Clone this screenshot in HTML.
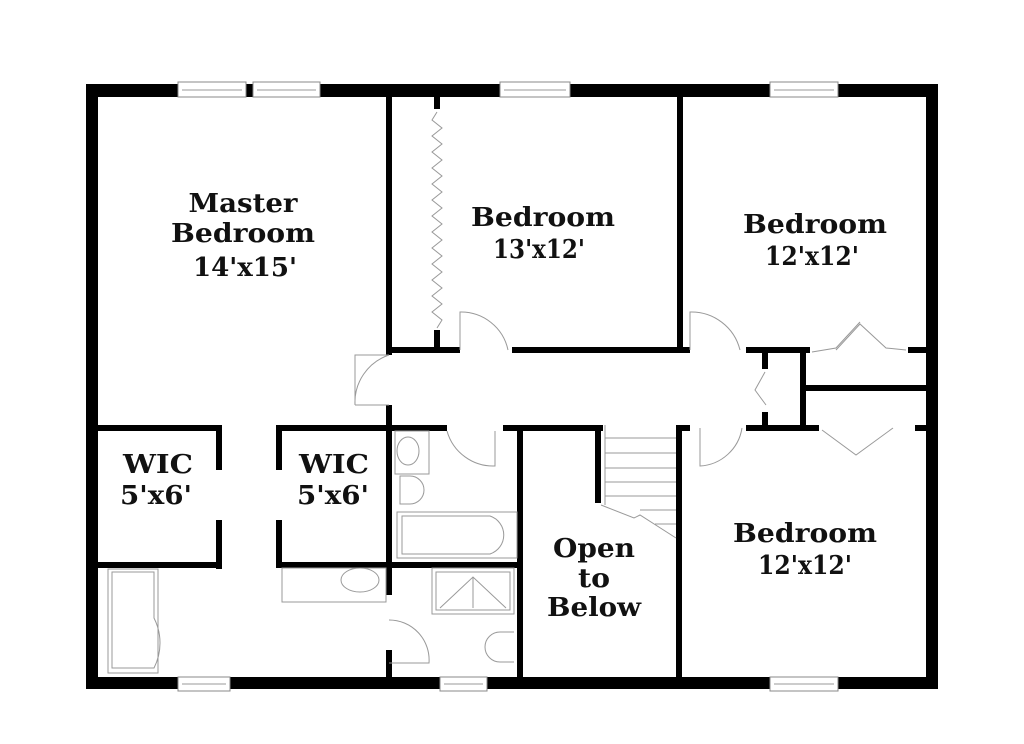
<!DOCTYPE html>
<html><head><meta charset="utf-8"><style>
html,body{margin:0;padding:0;background:#fff;width:1024px;height:744px;overflow:hidden}
svg{display:block}
text{font-family:"DejaVu Serif","Liberation Serif",serif;font-weight:bold;font-size:26px;fill:#111;text-anchor:middle}
.t{fill:none;stroke:#999;stroke-width:1}
</style></head><body>
<svg width="1024" height="744" viewBox="0 0 1024 744">
<g fill="#000">
<rect x="86" y="84" width="852" height="13"/>
<rect x="86" y="677" width="852" height="12"/>
<rect x="86" y="84" width="12" height="605"/>
<rect x="926" y="84" width="12" height="605"/>
<rect x="386" y="97" width="6" height="258"/>
<rect x="386" y="405" width="6" height="190"/>
<rect x="386" y="650" width="6" height="27"/>
<rect x="677" y="97" width="6" height="256"/>
<rect x="392" y="347" width="68" height="6"/>
<rect x="512" y="347" width="178" height="6"/>
<rect x="746" y="347" width="64" height="6"/>
<rect x="908" y="347" width="18" height="6"/>
<rect x="434" y="97" width="6" height="12"/>
<rect x="434" y="330" width="6" height="20"/>
<rect x="800" y="347" width="6" height="84"/>
<rect x="806" y="385" width="120" height="6"/>
<rect x="762" y="353" width="6" height="16"/>
<rect x="762" y="412" width="6" height="16"/>
<rect x="276" y="425" width="171" height="6"/>
<rect x="503" y="425" width="100" height="6"/>
<rect x="676" y="425" width="14" height="6"/>
<rect x="746" y="425" width="73" height="6"/>
<rect x="915" y="425" width="11" height="6"/>
<rect x="517" y="425" width="6" height="252"/>
<rect x="676" y="425" width="6" height="252"/>
<rect x="595" y="425" width="6" height="78"/>
<rect x="98" y="425" width="124" height="6"/>
<rect x="216" y="425" width="6" height="45"/>
<rect x="216" y="520" width="6" height="49"/>
<rect x="98" y="562" width="124" height="6"/>
<rect x="276" y="425" width="6" height="45"/>
<rect x="276" y="520" width="6" height="48"/>
<rect x="276" y="562" width="247" height="6"/>
</g>
<g fill="#fff" stroke="#888" stroke-width="1">
<rect x="178" y="82" width="68" height="15"/><rect x="253" y="82" width="67" height="15"/>
<rect x="500" y="82" width="70" height="15"/><rect x="770" y="82" width="68" height="15"/>
<rect x="178" y="677" width="52" height="14"/><rect x="440" y="677" width="47" height="14"/>
<rect x="770" y="677" width="68" height="14"/>
</g>
<g class="t">
<line x1="182" y1="90" x2="242" y2="90"/><line x1="257" y1="90" x2="316" y2="90"/>
<line x1="504" y1="90" x2="566" y2="90"/><line x1="774" y1="90" x2="834" y2="90"/>
<line x1="182" y1="684" x2="226" y2="684"/><line x1="444" y1="684" x2="483" y2="684"/><line x1="774" y1="684" x2="834" y2="684"/>
<polyline points="437,112 432,120 442,128 432,136 442,144 432,152 442,160 432,168 442,176 432,184 442,192 432,200 442,208 432,216 442,224 432,232 442,240 432,248 442,256 432,264 442,272 432,280 442,288 432,296 442,304 432,312 442,320 437,328"/>
<path d="M460,350 L460,312 A48,48 0 0 1 508,350"/>
<path d="M690,350 L690,312 A50,50 0 0 1 740,350"/>
<path d="M389,355 L355,355 L355,405 A50,50 0 0 1 389,355"/>
<path d="M355,405 L389,405"/>
<path d="M447,431 A48,48 0 0 0 495,466 L495,431"/>
<path d="M700,428 L700,466 A45,45 0 0 0 742,428"/>
<path d="M389,620 A40,40 0 0 1 429,663 L389,663"/>
<polyline points="836,350 860,324 886,348 906,350"/>
<polyline points="812,352 836,348 860,322"/>
<polyline points="822,430 856,455 893,428"/>
<polyline points="765,372 755,390 766,405"/>
<line x1="605" y1="425" x2="605" y2="505"/>
<line x1="605" y1="438" x2="676" y2="438"/><line x1="605" y1="453" x2="676" y2="453"/>
<line x1="605" y1="468" x2="676" y2="468"/><line x1="605" y1="482" x2="676" y2="482"/>
<line x1="605" y1="496" x2="676" y2="496"/><line x1="640" y1="510" x2="676" y2="510"/>
<line x1="655" y1="524" x2="676" y2="524"/>
<polyline points="601,505 634,518 640,515 676,538"/>
<rect x="395" y="431" width="34" height="43"/><ellipse cx="408" cy="451" rx="11" ry="14"/>
<path d="M400,476 L410,476 A14,14 0 1 1 410,504 L400,504 Z"/>
<rect x="397" y="512" width="120" height="46"/><path d="M402,516 L490,516 A20,20 0 0 1 490,554 L402,554 Z"/>
<rect x="282" y="568" width="104" height="34"/><ellipse cx="360" cy="580" rx="19" ry="12"/>
<rect x="432" y="568" width="82" height="46"/><rect x="436" y="572" width="74" height="38"/>
<polyline points="440,608 473,577 506,608"/><line x1="473" y1="577" x2="473" y2="608"/>
<path d="M514,632 L500,632 A15,15 0 1 0 500,662 L514,662"/>
<rect x="108" y="569" width="50" height="104"/>
<path d="M112,572 L154,572 L154,618 A55,55 0 0 1 154,668 L112,668 Z"/>
</g>
<text x="243" y="212" textLength="109" lengthAdjust="spacingAndGlyphs">Master</text>
<text x="243" y="242" textLength="144" lengthAdjust="spacingAndGlyphs">Bedroom</text>
<text x="245" y="276" textLength="104" lengthAdjust="spacingAndGlyphs">14'x15'</text>
<text x="543" y="226" textLength="144" lengthAdjust="spacingAndGlyphs">Bedroom</text>
<text x="539" y="258" textLength="92" lengthAdjust="spacingAndGlyphs">13'x12'</text>
<text x="815" y="233" textLength="144" lengthAdjust="spacingAndGlyphs">Bedroom</text>
<text x="812" y="265" textLength="94" lengthAdjust="spacingAndGlyphs">12'x12'</text>
<text x="158" y="473" textLength="70" lengthAdjust="spacingAndGlyphs">WIC</text>
<text x="156" y="504" textLength="72" lengthAdjust="spacingAndGlyphs">5'x6'</text>
<text x="334" y="473" textLength="70" lengthAdjust="spacingAndGlyphs">WIC</text>
<text x="333" y="504" textLength="72" lengthAdjust="spacingAndGlyphs">5'x6'</text>
<text x="594" y="557" textLength="82" lengthAdjust="spacingAndGlyphs">Open</text>
<text x="594" y="587" textLength="32" lengthAdjust="spacingAndGlyphs">to</text>
<text x="594" y="616" textLength="94" lengthAdjust="spacingAndGlyphs">Below</text>
<text x="805" y="542" textLength="144" lengthAdjust="spacingAndGlyphs">Bedroom</text>
<text x="805" y="574" textLength="94" lengthAdjust="spacingAndGlyphs">12'x12'</text>
</svg>
</body></html>
